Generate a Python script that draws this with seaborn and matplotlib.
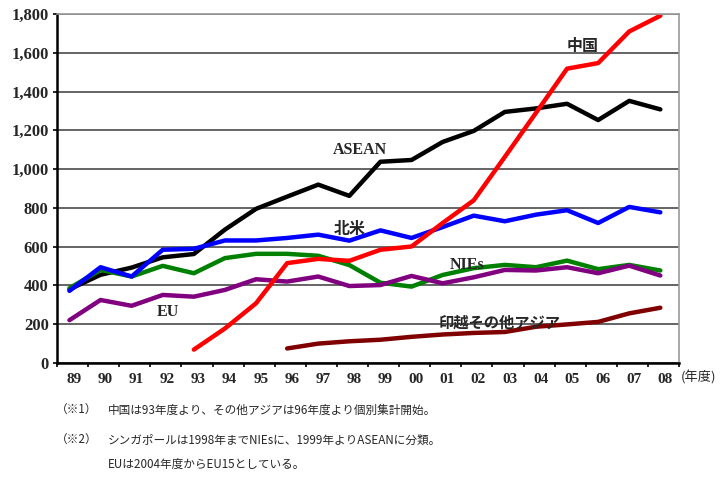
import numpy as np
import pandas as pd
import seaborn as sns
import matplotlib.pyplot as plt
from matplotlib.ticker import FuncFormatter, FixedLocator

# --- Data ---
years = ['89', '90', '91', '92', '93', '94', '95', '96', '97', '98',
         '99', '00', '01', '02', '03', '04', '05', '06', '07', '08']
nan = np.nan
asean = [380, 455, 492, 545, 562, 688, 795, 858, 920, 862,
         1038, 1047, 1140, 1197, 1295, 1313, 1337, 1253, 1352, 1308]
nies = [386, 480, 446, 501, 463, 541, 563, 563, 553, 505,
        414, 394, 454, 489, 506, 494, 528, 484, 506, 477]
eu = [221, 325, 295, 351, 342, 377, 432, 420, 446, 397,
      402, 449, 411, 442, 480, 477, 494, 463, 502, 451]
other_asia = [nan] * 7 + [75, 100, 112, 120, 135, 147, 155, 160,
                          187, 199, 212, 256, 285]
north_america = [372, 494, 446, 584, 589, 632, 632, 645, 662, 631,
                 684, 645, 701, 760, 731, 765, 788, 722, 805, 777]
china = [nan] * 4 + [69, 178, 308, 515, 537, 527, 584, 601, 722, 839,
                     1063, 1290, 1518, 1547, 1710, 1791]

series_names = ['ASEAN', 'NIEs', 'EU', '印越その他アジア', '北米', '中国']
series_values = [asean, nies, eu, other_asia, north_america, china]
colors = ['#000000', '#008000', '#800080', '#800000', '#0000ff', '#ff0000']

# --- Build long-form table ---
rows = []
for name, vals in zip(series_names, series_values):
    for i, v in enumerate(vals):
        rows.append({'idx': i, 'value': v, 'series': name})
df = pd.DataFrame(rows).dropna()

# --- Style ---
sns.set_style('white')
plt.rcParams['font.family'] = ['Noto Sans CJK JP', 'DejaVu Sans']
serif_bold = dict(family='Liberation Serif', weight='bold')
cjk = ['Noto Sans CJK JP', 'DejaVu Sans']

fig = plt.figure(figsize=(7.28, 4.79), dpi=100)
ax = fig.add_axes([57 / 728, 1 - 363 / 479, 622 / 728, 349 / 479])

sns.lineplot(data=df, x='idx', y='value', hue='series',
             hue_order=series_names, palette=colors,
             linewidth=3.2, ax=ax, legend=False, sort=False)

ax.set_xlim(-0.4, 19.6)
ax.set_ylim(0, 1800)
ax.set_xlabel('')
ax.set_ylabel('')

# gridlines
ax.set_yticks(np.arange(0, 1801, 200))
ax.yaxis.set_major_formatter(FuncFormatter(lambda v, p: f'{int(v):,}'))
ax.grid(axis='y', color='#3a3a3a', linewidth=1.1)
ax.set_axisbelow(True)

# x labels centered in each year cell, tick marks at cell edges
ax.set_xticks(np.arange(len(years)) + 0.15)
ax.set_xticklabels(years)
ax.xaxis.set_minor_locator(FixedLocator(np.arange(len(years) + 1) - 0.4))
ax.tick_params(axis='x', which='major', length=0, pad=7)
ax.tick_params(axis='x', which='minor', length=3, width=1.2,
               direction='out', color='black', bottom=True)
ax.tick_params(axis='y', length=3, width=1.2, direction='out',
               color='black', pad=3, left=True)
for lab in ax.get_xticklabels():
    lab.set_fontproperties('Liberation Serif')
    lab.set_fontweight('bold')
    lab.set_fontsize(11)
for lab in ax.get_yticklabels():
    lab.set_fontproperties('Liberation Serif')
    lab.set_fontweight('bold')
    lab.set_fontsize(12)

for side in ['left', 'bottom']:
    ax.spines[side].set_color('black')
    ax.spines[side].set_linewidth(1.8)
ax.spines['right'].set_color('#9a9a9a')
ax.spines['right'].set_linewidth(1.2)
ax.spines['top'].set_color('#9a9a9a')
ax.spines['top'].set_linewidth(1.2)

# series labels
ax.text(16.51, 1635, '中国', family=cjk, weight='bold', fontsize=11.5,
        ha='center', va='center')
ax.text(9.34, 1098, 'ASEAN', fontsize=11.5, ha='center', va='center', **serif_bold)
ax.text(9.02, 691, '北米', family=cjk, weight='bold', fontsize=11.5,
        ha='center', va='center')
ax.text(12.78, 505, 'NIEs', fontsize=11.5, ha='center', va='center', **serif_bold)
ax.text(3.17, 263, 'EU', fontsize=11.5, ha='center', va='center', **serif_bold)
ax.text(13.84, 206, '印越その他アジア', family=cjk, weight='bold', fontsize=11,
        ha='center', va='center')

# unit label after the last year
fig.text(681 / 728, 1 - 378 / 479, '(年度)', family=cjk, fontsize=9.5,
         ha='left', va='center')

# footnotes
fn = 8.4
fig.text(56 / 728, 1 - 410 / 479, '（※1）', family=cjk, fontsize=fn,
         ha='left', va='center')
fig.text(108 / 728, 1 - 410 / 479,
         '中国は93年度より、その他アジアは96年度より個別集計開始。',
         family=cjk, fontsize=fn, ha='left', va='center')
fig.text(56 / 728, 1 - 440 / 479, '（※2）', family=cjk, fontsize=fn,
         ha='left', va='center')
fig.text(108 / 728, 1 - 440 / 479,
         'シンガポールは1998年までNIEsに、1999年よりASEANに分類。',
         family=cjk, fontsize=fn, ha='left', va='center')
fig.text(108 / 728, 1 - 464 / 479,
         'EUは2004年度からEU15としている。',
         family=cjk, fontsize=fn, ha='left', va='center')

fig.savefig('out.png', dpi=100)
